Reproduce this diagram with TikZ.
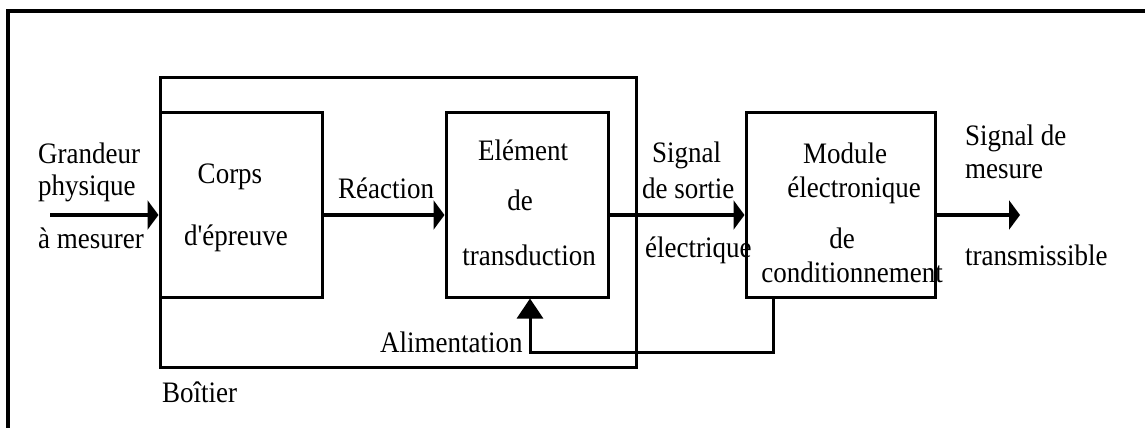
\documentclass[tikz,border=0pt]{standalone}
\usepackage{fontspec}
\usepackage{graphicx}
\setmainfont{Liberation Serif}[Ligatures=TeXOff]
\usetikzlibrary{arrows.meta}
\newcommand{\tall}[1]{\scalebox{1}[1.1]{#1}}
\tikzset{
  box/.style={draw, line width=3pt, inner sep=0pt},
  lbl/.style={inner sep=0pt, font=\fontsize{27}{32}\selectfont},
  arr/.style={line width=4pt, -{Triangle[length=11pt,width=29pt]}},
  fb/.style={line width=3pt, -{Triangle[length=20pt,width=26pt]}},
}
\begin{document}
\begin{tikzpicture}[x=1pt,y=-1pt]
\useasboundingbox (0,0) rectangle (1145,428);
\fill[white] (0,0) rectangle (1145,428);
% outer frame (only top and left visible)
\draw[line width=3.5pt] (8,440) -- (8,11) -- (1160,11);
% boxes
\node[box, minimum width=476pt, minimum height=290pt] (boitier) at (398,222) {};
\node[box, fill=white, minimum width=162pt, minimum height=185pt] (corps) at (241,204.5) {};
\node[box, minimum width=162pt, minimum height=185pt] (elem) at (527,204.5) {};
\node[box, minimum width=189pt, minimum height=185pt] (module) at (840.5,204.5) {};
% coordinates
\coordinate (ay) at (0,215);
\coordinate (in) at (50,215);
\coordinate (out) at (1020,215);
\coordinate (fbx) at (773,352);
\coordinate (fby) at (530,352);
% connectors
\draw[arr] (in) -- (corps.west |- ay);
\draw[arr] (corps.east |- ay) -- (elem.west |- ay);
\draw[arr] (elem.east |- ay) -- (module.west |- ay);
\draw[arr] (module.east |- ay) -- (out);
\draw[fb] (module.south -| fbx) |- (fby) -- (elem.south -| fby);
% labels
\node[lbl, anchor=base west] (g1) at (38,163) {\tall{Grandeur}};
\node[lbl, anchor=base west] (g2) at (38,195) {\tall{physique}};
\node[lbl, anchor=base west] (g3) at (38,248) {\tall{à mesurer}};
\node[lbl, anchor=base] (c1) at (230,183) {\tall{Corps}};
\node[lbl, anchor=base] (c2) at (236,245) {\tall{d'épreuve}};
\node[lbl, anchor=base west] (r1) at (338,198) {\tall{Réaction}};
\node[lbl, anchor=base] (e1) at (523,160) {\tall{Elément}};
\node[lbl, anchor=base] (e2) at (520,210) {\tall{de}};
\node[lbl, anchor=base] (e3) at (529,265) {\tall{transduction}};
\node[lbl, anchor=base west] (s1) at (652,162) {\tall{Signal}};
\node[lbl, anchor=base west] (s2) at (642,198) {\tall{de sortie}};
\node[lbl, anchor=base west] (s3) at (645,257) {\tall{électrique}};
\node[lbl, anchor=base west] (al) at (380,352) {\tall{Alimentation}};
\node[lbl, anchor=base west] (bo) at (162,402) {\tall{Boîtier}};
\node[lbl, anchor=base] (m1) at (845,163) {\tall{Module}};
\node[lbl, anchor=base] (m2) at (854,197) {\tall{électronique}};
\node[lbl, anchor=base] (m3) at (842,248) {\tall{de}};
\node[lbl, anchor=base] (m4) at (852,282) {\tall{conditionnement}};
\node[lbl, anchor=base west] (o1) at (965,145) {\tall{Signal de}};
\node[lbl, anchor=base west] (o2) at (965,178) {\tall{mesure}};
\node[lbl, anchor=base west] (o3) at (965,265) {\tall{transmissible}};
\end{tikzpicture}
\end{document}
